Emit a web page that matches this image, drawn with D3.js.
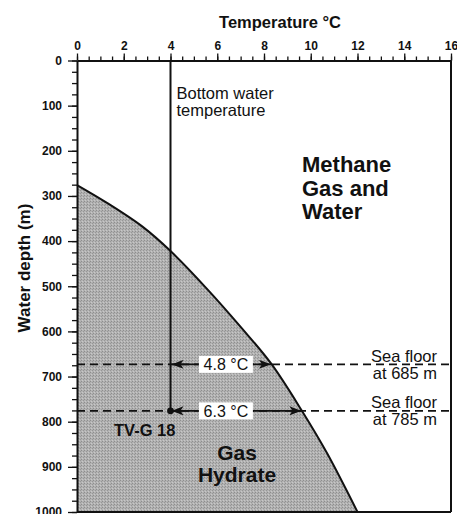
<!DOCTYPE html>
<html>
<head>
<meta charset="utf-8">
<script src="https://cdn.jsdelivr.net/npm/d3@7"></script>
<style>
  body { margin: 0; background: #fff; }
  svg { display: block; font-family: Helvetica, Arial, "Liberation Sans", sans-serif; }
  .axis path, .axis line { stroke: #111; }
  .axis text { font-size: 12px; font-weight: bold; fill: #111; }
</style>
</head>
<body>
<div id="chart"></div>
<script>
// temperature (deg C) / water depth (m)
var tempTicks = [0, 2, 4, 6, 8, 10, 12, 14, 16]
var depthTicks = [0, 100, 200, 300, 400, 500, 600, 700, 800, 900, 1000]

// hydrate stability boundary
var boundaryTemp = [0, 1.3, 2.8, 4, 5.6, 7, 8.3, 9.6, 10.7, 12]
var boundaryDepth = [276, 316, 368, 422, 508, 590, 671, 774, 870, 1000]

var bottomWaterTemp = 4
var seaFloors = [
  { depth: 673, label: "Sea floor", sub: "at 685 m", dT: "4.8 °C", hit: 8.3 },
  { depth: 776, label: "Sea floor", sub: "at 785 m", dT: "6.3 °C", hit: 9.6 }
]
var stationName = "TV-G 18"

var width = 457, height = 514
var margin = { top: 60.5, left: 77, right: 6, bottom: 2 }

var x = d3.scaleLinear().domain([0, 16]).range([margin.left, width - margin.right])
var y = d3.scaleLinear().domain([0, 1000]).range([margin.top, 512])

var svg = d3.select("#chart").append("svg")
  .attr("width", width)
  .attr("height", height)

// stipple-like fill
var defs = svg.append("defs")
var pat = defs.append("pattern")
  .attr("id", "stipple")
  .attr("patternUnits", "userSpaceOnUse")
  .attr("width", 3).attr("height", 3)
pat.append("rect").attr("width", 3).attr("height", 3).attr("fill", "#b2b2b2")
pat.append("rect").attr("x", 0).attr("y", 0).attr("width", 1).attr("height", 1).attr("fill", "#8e8e8e")
pat.append("rect").attr("x", 2).attr("y", 1).attr("width", 1).attr("height", 1).attr("fill", "#979797")
pat.append("rect").attr("x", 1).attr("y", 2).attr("width", 1).attr("height", 1).attr("fill", "#c8c8c8")

defs.append("marker")
  .attr("id", "head")
  .attr("viewBox", "0 0 12 9")
  .attr("refX", 12).attr("refY", 4.5)
  .attr("markerWidth", 12).attr("markerHeight", 9)
  .attr("markerUnits", "userSpaceOnUse")
  .attr("orient", "auto-start-reverse")
  .append("path")
  .attr("d", "M0,0 L12,4.5 L0,9 L3,4.5 Z")
  .attr("fill", "#111")

var boundary = boundaryTemp.map(function(t, i) {
  return { temp: t, depth: boundaryDepth[i] }
})

// gas hydrate region
var area = d3.area()
  .y(function(d) { return y(d.depth) })
  .x0(x(0))
  .x1(function(d) { return x(d.temp) })
  .curve(d3.curveCatmullRom)

svg.append("path")
  .datum(boundary)
  .attr("d", area)
  .attr("fill", "url(#stipple)")

var line = d3.line()
  .x(function(d) { return x(d.temp) })
  .y(function(d) { return y(d.depth) })
  .curve(d3.curveCatmullRom)

svg.append("path")
  .datum(boundary)
  .attr("d", line)
  .attr("fill", "none")
  .attr("stroke", "#111")
  .attr("stroke-width", 2)

// sea floor dashed lines
svg.selectAll(".floor")
  .data(seaFloors)
  .enter().append("line")
  .attr("class", "floor")
  .attr("x1", x(0)).attr("x2", x(16))
  .attr("y1", function(d) { return y(d.depth) })
  .attr("y2", function(d) { return y(d.depth) })
  .attr("stroke", "#111")
  .attr("stroke-width", 1.6)
  .attr("stroke-dasharray", "8,5")

// bottom water temperature line
svg.append("line")
  .attr("x1", x(bottomWaterTemp)).attr("x2", x(bottomWaterTemp))
  .attr("y1", y(0)).attr("y2", y(seaFloors[1].depth))
  .attr("stroke", "#111")
  .attr("stroke-width", 2)

svg.append("circle")
  .attr("cx", x(bottomWaterTemp))
  .attr("cy", y(seaFloors[1].depth))
  .attr("r", 3.4)
  .attr("fill", "#111")

// temperature difference arrows
svg.selectAll(".arrow")
  .data(seaFloors)
  .enter().append("line")
  .attr("class", "arrow")
  .attr("x1", x(bottomWaterTemp) + 1).attr("x2", function(d) { return x(d.hit) })
  .attr("y1", function(d) { return y(d.depth) })
  .attr("y2", function(d) { return y(d.depth) })
  .attr("stroke", "#111")
  .attr("stroke-width", 1.6)
  .attr("marker-start", "url(#head)")
  .attr("marker-end", "url(#head)")

var boxes = svg.selectAll(".dT")
  .data(seaFloors)
  .enter().append("g")
  .attr("class", "dT")
  .attr("transform", function(d) { return "translate(" + x(6.37) + "," + y(d.depth) + ")" })
boxes.append("rect")
  .attr("x", -27).attr("y", -8.5)
  .attr("width", 54).attr("height", 17)
  .attr("fill", "#fff")
boxes.append("text")
  .attr("text-anchor", "middle")
  .attr("y", 6)
  .attr("font-size", "16px")
  .attr("fill", "#111")
  .text(function(d) { return d.dT })

// sea floor labels
var floorText = svg.selectAll(".floorText")
  .data(seaFloors)
  .enter().append("text")
  .attr("class", "floorText")
  .attr("text-anchor", "end")
  .attr("font-size", "16.5px")
  .attr("fill", "#111")
floorText.append("tspan")
  .attr("x", 437)
  .attr("y", function(d) { return y(d.depth) - 2.5 })
  .text(function(d) { return d.label })
floorText.append("tspan")
  .attr("x", 437)
  .attr("y", function(d) { return y(d.depth) + 14.5 })
  .text(function(d) { return d.sub })

// region labels
var txt = svg.append("text")
  .attr("font-size", "16.5px")
  .attr("fill", "#111")
txt.append("tspan").attr("x", x(bottomWaterTemp) + 6).attr("y", 99).text("Bottom water")
txt.append("tspan").attr("x", x(bottomWaterTemp) + 6).attr("y", 116).text("temperature")

var meth = svg.append("text")
  .attr("font-size", "22px")
  .attr("font-weight", "bold")
  .attr("fill", "#111")
;["Methane", "Gas and", "Water"].forEach(function(s, i) {
  meth.append("tspan").attr("x", 302).attr("y", 172 + i * 23.5).text(s)
})

var hyd = svg.append("text")
  .attr("font-size", "21px")
  .attr("font-weight", "bold")
  .attr("text-anchor", "middle")
  .attr("fill", "#111")
;["Gas", "Hydrate"].forEach(function(s, i) {
  hyd.append("tspan").attr("x", 237).attr("y", 460 + i * 22).text(s)
})

svg.append("text")
  .attr("x", 114).attr("y", 436)
  .attr("font-size", "16.5px")
  .attr("font-weight", "bold")
  .attr("fill", "#111")
  .text(stationName)

// frame (right and bottom)
svg.append("line")
  .attr("x1", x(16)).attr("x2", x(16))
  .attr("y1", y(0)).attr("y2", y(1000))
  .attr("stroke", "#111").attr("stroke-width", 2)
svg.append("line")
  .attr("x1", x(0)).attr("x2", x(16))
  .attr("y1", y(1000)).attr("y2", y(1000))
  .attr("stroke", "#111").attr("stroke-width", 2)

// axes
svg.append("g")
  .attr("class", "axis")
  .attr("transform", "translate(0," + y(0) + ")")
  .call(d3.axisTop(x).tickValues(d3.range(0, 16.01, 0.5)).tickSize(4).tickSizeOuter(0).tickFormat(""))
  .select(".domain").attr("stroke-width", 2)

svg.append("g")
  .attr("class", "axis")
  .attr("transform", "translate(0," + y(0) + ")")
  .call(d3.axisTop(x).tickValues(tempTicks).tickSize(7).tickSizeOuter(0).tickPadding(4).tickFormat(d3.format("d")))
  .call(function(g) { g.select(".domain").remove() })

svg.append("g")
  .attr("class", "axis")
  .attr("transform", "translate(" + x(0) + ",0)")
  .call(d3.axisLeft(y).tickValues(d3.range(0, 1000.1, 25)).tickSize(5).tickSizeOuter(0).tickFormat(""))
  .select(".domain").attr("stroke-width", 2)

svg.append("g")
  .attr("class", "axis")
  .attr("transform", "translate(" + x(0) + ",0)")
  .call(d3.axisLeft(y).tickValues(depthTicks).tickSize(9).tickSizeOuter(0).tickPadding(6).tickFormat(d3.format("d")))
  .call(function(g) { g.select(".domain").remove() })

svg.selectAll(".axis .tick line").attr("stroke-width", 1.3)

// axis titles
svg.append("text")
  .attr("x", 280).attr("y", 28)
  .attr("text-anchor", "middle")
  .attr("font-size", "16.5px")
  .attr("font-weight", "bold")
  .attr("fill", "#111")
  .text("Temperature °C")

svg.append("text")
  .attr("transform", "translate(30,268) rotate(-90)")
  .attr("text-anchor", "middle")
  .attr("font-size", "17px")
  .attr("font-weight", "bold")
  .attr("fill", "#111")
  .text("Water depth (m)")
</script>
</body>
</html>
